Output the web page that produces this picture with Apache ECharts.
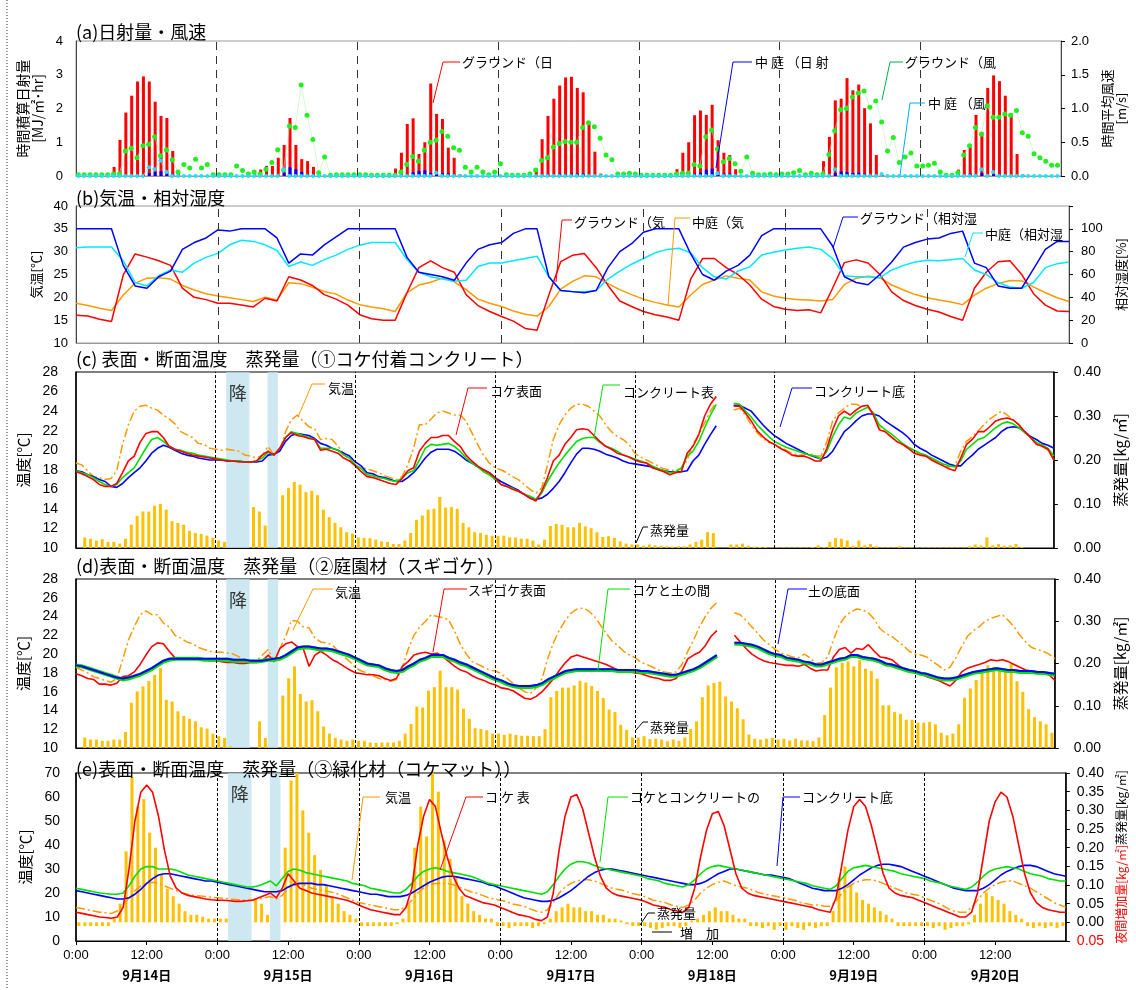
<!DOCTYPE html>
<html>
<head>
<meta charset="utf-8">
<script src="https://cdn.jsdelivr.net/npm/echarts@6/dist/echarts.min.js"></script>
<style>
html, body { margin: 0; padding: 0; background: #fff; }
#main { width: 1136px; height: 990px; }
</style>
</head>
<body>
<div id="main"></div>
<script>
// ---- tick labels / categories ----
var dayLabels = ['9月14日', '9月15日', '9月16日', '9月17日', '9月18日', '9月19日', '9月20日'];
var dayBreaks = [24, 48, 72, 96, 120, 144];
var rainSpans = [[25.8, 29.8], [32.9, 34.7]];

// ---- (a) hourly solar [MJ/m2 hr] and wind [m/s], index = hour 0..167 ----
var groundSolar = [
  0,0,0,0,0,0,0.27,1.07,1.88,2.38,2.8,2.95,2.8,2.2,1.78,1.72,0.74,0.1,0,0,0,0,0,0,
  0,0,0,0,0,0,0.05,0.19,0.3,0.3,0.54,0.92,1.72,0.92,0.5,0.44,0.27,0.03,0,0,0,0,0,0,
  0,0,0,0,0,0,0.22,0.69,1.54,1.71,0.65,1.0,2.74,1.84,1.69,0.84,0.54,0.05,0,0,0,0,0,0,
  0,0,0,0,0,0,0.23,1.09,1.78,2.29,2.68,2.92,2.94,2.61,2.48,1.56,0.72,0.07,0,0,0,0,0,0,
  0,0,0,0,0,0,0.2,0.69,1.0,1.8,1.94,1.81,2.11,1.06,0.69,0.62,0.2,0,0,0,0,0,0,0,
  0,0,0,0,0,0,0,0.44,1.16,2.24,2.29,2.9,2.54,2.71,2.01,1.56,0.62,0.03,0,0,0,0,0,0,
  0,0,0,0,0,0,0.19,0.77,0.87,1.81,1.31,2.61,2.98,2.81,2.38,1.86,0.65,0.05,0,0,0,0,0,0
];
var courtSolar = [
  0,0,0,0,0,0,0,0,0,0,0.02,0.03,0.09,0.12,0.14,0.12,0.05,0,0,0,0,0,0,0,
  0,0,0,0,0,0,0,0,0,0,0,0.1,0.26,0.2,0.12,0.05,0,0,0,0,0,0,0,0,
  0,0,0,0,0,0,0,0,0,0.11,0.15,0.17,0.09,0.05,0.08,0.08,0,0,0,0,0,0,0,0,
  0,0,0,0,0,0,0,0,0.05,0,0.07,0.05,0.07,0.07,0.07,0,0,0,0,0,0,0,0,0,
  0,0,0,0,0,0,0,0,0,0.07,0.1,0.19,0.22,0.12,0.07,0.07,0,0,0,0,0,0,0,0,
  0,0,0,0,0,0,0,0,0,0.09,0.14,0.12,0.09,0.1,0.07,0,0,0,0,0,0,0,0,0,
  0,0,0,0,0,0,0,0,0.07,0,0.09,0,0.05,0.05,0,0,0,0,0,0,0,0,0,0
];
var groundWind = [
  0.02,0.02,0.02,0.02,0.02,0.02,0.03,0.03,0.37,0.41,0.27,0.45,0.47,0.58,0.3,0.39,0.24,0.06,0.17,0.12,0.25,0.12,0.17,0.02,
  0.02,0.02,0.02,0.15,0.08,0.03,0.06,0.03,0.1,0.2,0.39,0.09,0.74,0.72,1.35,0.9,0.54,0.05,0.28,0.01,0.02,0.02,0.02,0.02,
  0.02,0.02,0.01,0.01,0.01,0.01,0.01,0.06,0.17,0.29,0.22,0.38,0.5,0.53,0.66,0.59,0.42,0.38,0.13,0.06,0.13,0.06,0.02,0.06,
  0.18,0.02,0.01,0.01,0.01,0.03,0.09,0.23,0.27,0.43,0.48,0.51,0.5,0.5,0.72,0.79,0.73,0.56,0.31,0.24,0.03,0.03,0.04,0.03,
  0.01,0.01,0.01,0.01,0.01,0.01,0.03,0.04,0.04,0.17,0.15,0.58,0.68,0.4,0.21,0.26,0.18,0.07,0.28,0.04,0.02,0.02,0.03,0.02,
  0.03,0.03,0.05,0.08,0.02,0.04,0.02,0.03,0.32,0.67,0.98,1.0,1.17,1.23,1.26,1.02,1.11,0.8,0.37,0.57,0.2,0.28,0.34,0.15,
  0.15,0.16,0.19,0.06,0.01,0.01,0.05,0.31,0.45,0.72,0.62,1.04,0.87,0.87,0.92,0.9,0.97,0.64,0.59,0.33,0.27,0.22,0.16,0.16
];
var courtWind = [
  0,0,0,0,0,0,0,0,0,0,0,0,0.13,0.1,0.23,0.06,0,0,0,0,0,0,0,0,
  0,0,0,0,0,0,0,0,0,0,0,0.1,0,0,0,0,0,0,0,0,0,0,0,0,
  0,0,0,0,0,0,0,0,0,0,0,0,0,0.05,0,0,0,0,0,0,0,0,0,0,
  0,0,0,0,0,0,0,0,0,0,0,0,0,0,0,0,0,0,0,0,0,0,0,0,
  0,0,0,0,0,0,0,0,0,0,0,0,0,0.04,0,0,0,0,0,0,0,0,0,0,
  0,0,0,0,0,0,0,0,0,0.1,0,0,0,0,0,0,0,0.03,0,0,0,0,0,0,
  0,0,0,0,0,0,0,0,0,0,0.1,0,0.06,0,0,0,0,0,0,0,0,0,0,0
];

// ---- (b) 2-hourly air temperature [C] and humidity [%], hour 0,2,..,168 ----
var groundTemp = [
  16.1,15.9,15.2,14.7,24.9,29.5,28.8,28.0,27.0,22.0,
  20.0,19.5,18.7,18.7,18.3,17.9,19.8,19.2,24.5,23.8,
  22.6,20.6,19.6,18.3,16.2,15.3,15.0,15.0,21.0,26.5,
  28.0,26.5,25.5,20.6,18.2,16.9,15.8,14.8,13.2,12.8,
  20.5,27.8,29.2,29.6,26.5,22.6,19.2,18.0,16.9,16.2,
  15.7,15.0,24.0,28.5,28.5,26.5,25.0,22.7,19.6,18.0,
  17.4,17.1,17.3,16.6,22.0,27.6,28.2,27.5,25.0,21.2,
  19.3,18.2,17.4,16.8,15.8,15.0,22.0,25.5,27.8,28.0,
  25.0,20.8,18.3,17.0,16.9
];
var courtTemp = [
  18.7,18.2,17.6,17.1,20.5,23.1,24.2,24.3,24.0,22.6,
  21.6,20.8,20.3,19.9,19.5,19.1,20.0,19.4,23.2,23.0,
  22.2,21.3,20.7,19.4,18.4,17.9,17.5,16.9,21.0,22.7,
  23.3,24.2,23.4,21.7,19.6,18.7,18.0,17.0,16.3,15.9,
  18.0,21.8,23.5,24.7,24.5,23.0,21.7,20.6,19.6,18.9,
  18.3,17.9,20.5,22.8,23.8,24.7,24.2,23.8,21.2,20.3,
  19.8,19.5,19.4,19.2,19.5,22.8,24.2,24.6,24.3,22.7,
  21.6,20.6,19.9,19.4,19.0,18.4,20.5,22.0,23.0,23.7,
  23.6,22.3,21.0,19.9,19.1
];
var groundRH = [
  100,100,100,100,68,50,48,58,63,82,
  88,92,99,98,100,100,100,92,70,78,
  77,86,93,100,100,100,100,100,75,62,
  60,58,55,70,82,86,88,96,100,100,
  58,46,45,44,46,66,80,87,97,100,
  100,100,78,60,55,63,68,77,94,100,
  100,100,100,100,85,58,53,51,60,71,
  84,88,91,92,96,98,70,66,50,48,
  48,65,82,89,89
];
var courtRH = [
  83.5,84,84,84,72,53,50,59,64,62,
  70,75,78.5,86,90,89,86,81,67,71,
  68,73,77,82,85.7,88,88,88,73,62,
  58,56,54,55,67,70,70,72,74,76,
  58,46,45,45,46,56,63,69,74,79,
  82,83,79,66,58,56,63,66.7,77,79.5,
  81.5,83,84,82,74,59,58,58,57,64,
  68,71,72.5,72,73,74,64,60,53,49,
  48,53,66,69.5,71
];

// ---- (c) moss-covered concrete, hourly temperatures hour 0..168 [C] ----
var cAir = [
  18.7,18.5,17.9,17.3,17.2,17.0,17.1,17.9,20.6,22.6,24.0,24.5,
  24.6,24.3,24.1,23.6,23.2,22.7,21.9,21.6,21.3,20.7,20.6,20.2,
  20.1,20.0,20.1,20.0,19.9,19.5,19.4,19.2,19.5,20.4,19.5,19.9,
  21.9,23.1,23.6,23.0,22.4,22.2,21.1,21.2,21.1,20.4,19.7,19.0,
  18.4,18.2,18.1,17.9,17.7,17.4,17.2,17.0,17.3,18.5,20.2,22.6,
  22.6,23.2,23.8,24.0,23.8,23.6,23.6,23.0,21.8,20.6,19.5,18.7,
  18.2,18.0,17.7,17.3,17.0,16.5,16.0,15.6,16.1,18.5,21.1,22.6,
  23.6,24.3,24.7,24.7,24.5,24.0,23.5,22.6,21.9,21.4,21.1,20.6,
  19.7,19.3,19.0,18.7,18.4,18.1,18.0,17.9,18.1,19.0,20.6,21.6,
  22.8,24.0,24.9,null,null,24.1,24.3,23.6,22.6,21.8,21.2,20.8,
  20.6,20.3,20.0,19.7,19.5,19.5,19.7,19.4,19.4,20.9,23.0,23.8,
  24.3,24.7,24.7,24.5,24.5,23.6,22.3,21.9,21.4,20.9,20.6,20.2,
  19.9,19.6,19.4,19.0,18.7,18.5,18.3,18.4,19.9,20.9,21.4,22.0,
  22.6,23.2,23.6,24.0,23.6,23.1,22.6,21.9,21.3,20.6,20.4,20.0,
  19.0
];
var cMoss = [
  17.8,17.6,17.3,17.0,16.5,16.3,16.3,16.6,17.7,18.9,19.4,20.8,
  21.7,21.9,21.9,21.3,20.4,20.1,19.9,19.7,19.5,19.4,19.3,19.2,
  19.1,19.0,18.9,18.9,18.8,18.8,18.8,18.9,19.5,19.9,19.5,20.2,
  21.3,21.8,21.5,21.4,21.2,21.1,20.0,20.1,19.9,19.7,19.2,18.9,
  18.4,17.8,17.3,17.2,17.0,16.8,16.6,16.5,17.1,17.9,18.2,19.9,
  20.7,21.3,21.3,21.5,21.5,20.9,20.4,19.5,18.9,18.4,18.0,17.7,
  17.2,16.5,16.3,16.0,15.8,15.5,15.1,14.8,15.8,17.2,18.9,19.5,
  20.6,21.3,22.1,22.2,22.1,21.5,20.9,20.4,20.1,19.7,19.5,19.3,
  19.0,18.8,18.7,18.2,18.0,17.8,17.5,17.7,17.8,19.7,20.4,21.6,
  23.5,24.7,25.5,null,null,24.5,24.5,23.8,23.0,22.0,21.4,20.9,
  20.6,20.2,19.9,19.5,19.4,19.4,19.2,18.9,18.9,20.2,22.1,23.5,
  24.0,23.6,24.1,24.5,24.6,23.6,22.1,21.9,21.4,20.9,20.6,20.2,
  19.7,19.5,19.4,19.0,18.7,18.4,18.1,17.9,19.2,20.6,21.1,21.9,
  21.9,22.4,23.0,23.2,23.3,23.1,22.6,21.9,21.3,20.6,20.4,20.1,
  19.0
];
var cConcTop = [
  17.9,17.7,17.5,17.2,16.8,16.5,16.3,16.5,17.2,17.7,18.2,19.2,
  20.2,21.1,21.3,20.9,20.4,20.1,20.0,19.8,19.7,19.5,19.4,19.3,
  19.2,19.1,19.0,18.9,18.9,18.8,18.8,18.9,19.2,19.8,19.5,20.2,
  21.3,21.9,21.7,21.5,21.3,21.1,20.2,20.2,20.2,20.0,19.5,19.2,
  18.5,18.1,17.5,17.4,17.2,17.1,16.9,16.8,17.1,17.7,17.9,19.0,
  20.2,20.6,20.5,20.6,20.7,20.4,19.9,19.2,18.7,18.3,17.8,17.5,
  17.0,16.5,16.3,16.1,15.8,15.5,15.3,15.0,15.6,16.8,17.8,18.7,
  19.5,20.2,20.9,21.2,21.3,21.3,20.8,20.4,20.2,19.9,19.5,19.3,
  19.1,18.9,18.7,18.4,18.1,17.9,17.7,17.8,18.2,19.4,19.9,20.9,
  22.3,23.6,24.7,null,null,24.8,24.7,24.0,23.4,22.6,22.0,21.4,
  20.9,20.6,20.3,20.1,19.9,19.7,19.5,19.4,19.1,19.9,21.4,22.6,
  23.4,23.2,23.8,24.1,24.4,23.8,22.6,22.1,21.7,21.2,20.7,20.3,
  20.0,19.7,19.5,19.2,18.9,18.6,18.4,18.3,18.9,20.1,20.6,21.1,
  21.3,21.8,22.3,22.7,22.9,22.7,22.3,21.8,21.3,20.8,20.5,20.2,
  19.4
];
var cConcBot = [
  17.9,17.8,17.5,17.3,17.0,16.8,16.3,16.2,16.6,17.2,17.7,18.2,
  18.9,19.7,20.2,20.5,20.3,20.0,19.7,19.5,19.4,19.2,19.1,19.0,
  19.0,19.0,18.9,18.9,18.9,18.8,18.8,18.8,18.9,19.5,19.6,19.9,
  20.9,21.5,21.7,21.6,21.5,21.2,20.7,20.5,20.2,20.0,19.7,19.4,
  18.8,18.4,17.7,17.6,17.3,17.2,17.0,16.8,16.8,17.2,17.7,18.4,
  19.2,19.8,20.1,20.1,20.1,19.9,19.5,19.0,18.7,18.3,18.0,17.7,
  17.2,16.8,16.5,16.2,15.9,15.5,15.1,15.0,15.1,15.5,16.1,16.8,
  17.7,18.7,19.6,20.2,20.2,20.1,19.9,19.6,19.4,19.2,18.9,18.7,
  18.6,18.5,18.4,18.3,18.1,17.9,17.8,17.8,17.8,17.9,18.9,19.5,
  20.6,21.6,22.5,null,null,24.6,24.6,24.3,24.0,23.3,22.6,22.0,
  21.5,21.1,20.7,20.4,20.1,19.8,19.5,19.3,19.1,19.3,19.9,20.9,
  21.9,22.4,23.0,23.5,23.7,23.7,23.5,23.0,22.6,22.2,21.8,21.3,
  20.6,20.2,19.9,19.5,19.2,18.9,18.6,18.4,18.4,19.0,19.5,20.1,
  20.5,20.9,21.3,21.9,22.3,22.4,22.3,21.9,21.4,21.1,20.7,20.5,
  20.2
];
// hourly evaporation [kg/m2], index = hour 0..167
var cEvap = [
  0,0.024,0.021,0.017,0.02,0.014,0.014,0.01,0.021,0.053,0.073,0.083,0.083,0.096,0.1,0.087,0.061,0.057,0.053,0.039,0.034,0.032,0.028,0.023,
  0.017,0.014,0,0,0,0,0.093,0.083,0.051,0,0,0.12,0.136,0.15,0.144,0.127,0.13,0.12,0.087,0.07,0.057,0.047,0.036,0.033,
  0.024,0.023,0.022,0.019,0.015,0.014,0.009,0.009,0.017,0.034,0.064,0.074,0.087,0.089,0.116,0.092,0.093,0.089,0.057,0.047,0.036,0.034,0.03,0.028,
  0.027,0.028,0.024,0.024,0.021,0.021,0.017,0.008,0.019,0.05,0.055,0.053,0.047,0.047,0.057,0.049,0.045,0.036,0.025,0.027,0.023,0.015,0.01,0.008,
  0.008,0.005,0.008,0.006,0.005,0.004,0.003,0.004,0.004,0.008,0.014,0.019,0.036,0.034,0,0,0.008,0.008,0.01,0.005,0.003,0.002,0.002,0.001,
  0.001,0.001,0.001,0.001,0.001,0.001,0.002,0.006,0.002,0.014,0.023,0.021,0.017,0.005,0.017,0.006,0.009,0.004,0.001,0.001,0.001,0.004,0.001,0.001,
  0.001,0.001,0.001,0.001,0.001,0.001,0.001,0.001,0.001,0.004,0.008,0.006,0.024,0.006,0.009,0.005,0.006,0.009,0.002,0,0,0,0,0
];

// ---- (d) garden moss (sugigoke) ----
var dAir = [
  18.6,18.3,18.0,17.6,17.4,17.2,17.0,17.4,19.4,21.5,22.9,24.2,
  24.6,24.2,24.2,23.3,22.9,22.0,21.7,21.3,21.1,20.7,20.5,20.3,
  20.2,20.2,20.1,20.0,19.7,19.4,19.2,19.3,19.9,20.5,19.2,20.6,
  21.9,23.6,23.5,22.9,22.8,21.7,21.3,21.2,21.0,20.3,19.7,19.2,
  18.5,18.2,18.0,17.7,17.4,17.3,17.1,17.3,18.5,20.5,22.0,22.9,
  23.5,24.2,24.0,23.9,23.6,22.4,21.0,20.0,19.2,18.9,18.6,18.3,
  18.2,17.9,17.4,16.9,16.4,16.0,15.8,16.4,17.4,19.6,21.3,22.6,
  23.6,24.4,24.8,24.9,24.6,24.0,23.1,22.2,21.4,20.9,20.3,19.9,
  19.6,19.1,18.9,18.6,18.3,18.1,18.0,18.1,18.9,20.3,21.5,22.9,
  24.0,24.9,25.5,null,null,24.4,24.2,23.6,22.9,22.2,21.5,21.0,
  20.5,20.1,19.9,19.7,19.6,20.0,19.6,19.0,19.1,19.7,21.5,23.1,
  24.0,24.5,24.8,24.7,24.4,23.7,22.7,22.2,21.9,21.4,20.9,20.3,
  20.0,19.9,19.7,19.2,18.8,18.3,18.6,19.6,20.8,21.9,22.5,22.9,
  23.5,23.8,24.0,24.2,23.6,22.9,22.0,21.3,20.7,20.5,20.3,20.0,
  19.5
];
var dMoss = [
  17.9,17.7,17.4,17.3,16.8,16.8,16.7,16.9,17.6,17.7,18.1,18.9,
  19.9,20.8,21.2,21.1,20.3,19.6,19.6,19.6,19.6,19.5,19.4,19.3,
  19.3,19.2,19.1,19.1,19.0,19.0,19.1,19.1,19.3,19.9,19.2,20.6,
  21.1,21.3,20.8,20.6,18.7,19.9,20.3,19.9,19.4,19.1,18.7,18.3,
  18.0,17.9,17.8,17.8,17.7,17.4,17.2,17.4,18.7,19.2,19.9,20.1,
  20.2,20.0,20.1,19.7,19.2,18.7,18.3,18.1,17.7,17.4,17.2,16.9,
  16.7,16.4,16.3,16.1,15.7,15.3,15.2,15.5,16.0,16.7,17.4,18.3,
  19.1,19.7,19.9,19.7,19.5,19.3,19.1,18.9,18.6,18.3,18.2,18.1,
  18.0,17.9,17.7,17.5,17.4,17.2,17.2,17.4,18.2,19.5,19.9,20.2,
  20.9,21.9,22.5,null,null,22.0,21.3,20.6,20.0,19.6,19.3,19.1,
  19.0,18.9,18.8,18.8,18.7,18.9,18.5,18.2,18.3,18.3,19.7,20.5,
  20.7,20.1,20.6,20.5,21.0,20.3,19.7,19.6,19.4,18.9,18.4,18.3,
  18.1,17.9,17.6,17.4,17.2,16.9,16.6,17.2,18.1,18.5,18.7,18.9,
  19.1,19.4,19.3,19.4,19.2,18.9,18.6,18.3,18.2,18.1,18.0,17.8,
  17.2
];
var dMossSoil = [
  18.8,18.7,18.5,18.3,18.1,17.9,17.7,17.5,17.3,17.4,17.6,17.8,
  18.1,18.4,18.8,19.2,19.4,19.5,19.5,19.5,19.5,19.5,19.4,19.4,
  19.4,19.4,19.4,19.3,19.3,19.3,19.2,19.2,19.3,19.4,19.4,19.5,
  19.8,20.2,20.6,20.7,20.7,20.6,20.5,20.5,20.4,20.2,20.0,19.8,
  19.5,19.2,18.9,18.8,18.7,18.4,18.2,18.1,18.2,18.6,18.9,19.3,
  19.5,19.8,19.8,19.8,19.5,19.3,19.0,18.8,18.5,18.2,17.9,17.6,
  17.3,17.1,16.8,16.6,16.5,16.5,16.5,16.6,16.8,17.2,17.5,17.8,
  18.1,18.2,18.3,18.3,18.3,18.3,18.3,18.3,18.3,18.2,18.2,18.2,
  18.2,18.1,18.1,18.0,17.9,17.8,17.7,17.7,17.9,18.1,18.3,18.6,
  19.0,19.4,19.8,null,null,21.1,21.1,21.0,20.9,20.7,20.4,20.1,
  19.9,19.8,19.5,19.4,19.3,19.1,19.0,18.8,18.8,19.0,19.2,19.4,
  19.5,19.8,19.8,19.6,19.5,19.4,19.2,18.9,18.8,18.6,18.4,18.2,
  18.1,17.9,17.8,17.6,17.4,17.3,17.3,17.4,17.6,17.8,18.0,18.1,
  18.2,18.3,18.4,18.3,18.2,18.2,18.1,18.1,18.1,18.0,18.0,17.9,
  17.8
];
var dSoilBot = [
  18.8,18.7,18.5,18.3,18.1,17.9,17.7,17.5,17.4,17.5,17.7,17.9,
  18.2,18.5,18.9,19.3,19.5,19.5,19.5,19.5,19.5,19.5,19.5,19.5,
  19.5,19.5,19.5,19.4,19.4,19.4,19.3,19.3,19.3,19.4,19.5,19.6,
  19.9,20.3,20.7,20.8,20.8,20.7,20.6,20.6,20.5,20.3,20.1,19.9,
  19.6,19.3,19.0,18.9,18.8,18.5,18.3,18.2,18.3,18.7,19.0,19.4,
  19.6,19.9,19.9,19.9,19.6,19.4,19.1,18.9,18.6,18.3,18.0,17.7,
  17.4,17.2,16.9,16.7,16.6,16.6,16.6,16.7,16.9,17.3,17.6,17.9,
  18.2,18.3,18.4,18.4,18.4,18.4,18.4,18.4,18.4,18.3,18.3,18.3,
  18.3,18.2,18.2,18.1,18.0,17.9,17.8,17.8,18.0,18.2,18.4,18.7,
  19.1,19.5,19.9,null,null,21.2,21.2,21.1,21.0,20.8,20.5,20.2,
  20.0,19.9,19.6,19.5,19.4,19.2,19.1,18.9,18.9,19.1,19.3,19.5,
  19.6,19.9,19.9,19.7,19.6,19.5,19.3,19.0,18.9,18.7,18.5,18.3,
  18.2,18.0,17.9,17.7,17.5,17.4,17.4,17.5,17.7,17.9,18.1,18.2,
  18.3,18.4,18.5,18.4,18.3,18.3,18.2,18.2,18.2,18.1,18.1,18.0,
  17.9
];
var dEvap = [
  0,0.025,0.02,0.02,0.017,0.017,0.02,0.02,0.038,0.107,0.134,0.146,0.159,0.173,0.189,0.114,0.11,0.087,0.076,0.069,0.063,0.049,0.046,0.034,
  0.028,0.024,0.004,0,0,0,0,0.063,0.024,0,0,0.124,0.165,0.193,0.128,0.11,0.113,0.087,0.051,0.034,0.024,0.02,0.017,0.02,
  0.017,0.017,0.013,0.012,0.013,0.013,0.013,0.017,0.034,0.057,0.098,0.096,0.136,0.144,0.183,0.144,0.144,0.138,0.093,0.069,0.047,0.045,0.042,0.034,
  0.034,0.031,0.034,0.031,0.029,0.029,0.028,0.028,0.045,0.12,0.135,0.143,0.143,0.148,0.159,0.155,0.147,0.135,0.118,0.091,0.085,0.055,0.043,0.025,
  0.025,0.028,0.021,0.022,0.02,0.016,0.02,0.017,0.025,0.045,0.063,0.12,0.148,0.154,0.157,0.122,0.11,0.094,0.068,0.032,0.022,0.02,0.022,0.024,
  0.02,0.022,0.018,0.022,0.018,0.018,0.016,0.025,0.078,0.143,0.191,0.202,0.205,0.193,0.208,0.188,0.182,0.164,0.101,0.101,0.085,0.081,0.067,0.067,
  0.06,0.06,0.062,0.056,0.036,0.03,0.034,0.056,0.119,0.141,0.161,0.179,0.196,0.192,0.19,0.182,0.2,0.158,0.133,0.092,0.073,0.063,0.056,0.036
];

// ---- (e) moss mat ----
var eAir = [
  14,13.5,13,12.5,12,11.8,11.5,12.5,15,18,21,23,
  24,24.5,24,23,22,21,20,19.5,19,18.8,18.5,18.2,
  18,17.8,17.5,17.3,17,17,17.2,17.5,18,18.5,17.5,19,
  22,24,24,23,22,21.5,21,20.5,20,19,18,17,
  16,15.5,15,14.5,14,13.5,13,13,14.5,17,20,22,
  23.5,24,24,24,23.5,22.5,21.5,20.5,20,19,18,17.5,
  17,16.5,15.5,15,14.5,13.5,12.5,12,13,16,20,22.5,
  24,25,25.5,25.5,25,24,23,22,21.5,21,20,19.5,
  19,18,17,16.5,16,15,14.5,14,15,17,20,22,
  23.5,24.5,25,24,23,22.5,22,21,20,19.5,19,18.5,
  18,17.5,17,16,15.5,15,15,14.5,14.5,16.5,20,22.5,
  24,25,25.5,25.5,25,24,23,22,21,20,19.5,19,
  18,17,16,15,13.5,12.5,12,12,14,17,20,22,
  23.5,24.5,25,25,24,23,22,20.5,19,17.5,16,15,
  14
];
var eMoss = [
  12,11.5,11,10.5,10,9.8,9.5,10,14,30,50,62,
  65,62,52,38,27,22,20,19,18.5,18,17.5,17.2,
  17,17,16.8,16.5,16.5,16.8,17,18,19,20,18,22,
  28,25,22,21,20,19.5,19,18.5,18,17.5,17,16,
  15,14,13,12.5,12,11.5,11,11,14,22,40,52,
  59,56,45,35,27,22,19,18,17,16,15.5,15,
  14,13,12,11,10.5,10,9,8.5,10,20,38,52,
  60,61,55,45,35,27,22,20,19,18.5,18,17.5,
  17,16,15,14.5,14,13,12.5,12,14,22,35,46,
  53,54,48,38,28,22,20,19,18.5,18,17.5,17,
  16.5,16,15.5,15,14.5,14,13,12.5,12,18,32,46,
  56,59,56,48,38,28,22,20,19,18.5,18,17,
  16,15,14,13,12,11,10,10,12,20,35,50,
  58,62,60,52,40,28,20,16,14,13,12.5,12,
  12
];
var eMossConc = [
  22,21.5,21,20.5,20,19.8,19.5,19.5,20,23,27,30,
  31,31,30,30,30,29.5,28.5,27.5,27,26.5,26,25.5,
  25,24.5,24,23.5,23,22.5,22.5,23,24,25,23,26,
  29,30,29.5,28.5,28,27.5,27,26.5,26,25.5,25,24,
  23.5,23,22,21.5,21,20.5,20,20,21.5,24,27,29,
  30,30.5,30,29,28.5,28,27.5,27,26,25,24,23.5,
  23,22.5,22,21.5,21,20.5,20,19.5,20.5,23.5,27,30,
  32,33,33,32.5,31.5,30.5,30,29.5,29,28.5,28,27.5,
  27,26,25.5,25,24,23.5,23,22.5,23.5,25.5,28,30,
  31,31.5,31,30.5,30,29.5,29,28.5,28,27.5,27,26.5,
  26,25.5,25,24.5,24,23,22.5,22,21.5,23,26,29,
  30.5,31,31.5,31,30.5,30,29.5,29,28,27.5,27,26.5,
  26,25,24.5,24,23,22.5,22,21.5,22.5,24.5,27,29,
  30,30.5,31,30.5,30,29,28,27.5,27,26,25.5,25,
  25
];
var eConcBot = [
  21,20.5,20,19.5,19,18.5,18,17.5,17.5,18,19.5,21.5,
  24,26,27.5,28,28,27.5,27,26.5,26,25.5,25,25,
  24.5,24,23.5,23,22.5,22,21.5,21,20.5,20.5,20.5,21,
  22.5,23.5,24,24,24,23.5,23.5,23,22.5,22,21.5,21,
  20.5,20,19.5,19.5,19,18.5,18.5,18.5,19,20,21.5,23,
  24.5,25.5,26.5,27,27,26.5,26,25.5,25,24.5,23.5,23,
  22,21,20,19,18,17.5,17,16.5,16.5,17,18,19.5,
  21,23,25,27,28.5,29.5,30,30,29.5,29,28.5,28,
  27.5,27,26.5,26,25.5,25,24.5,24,23.5,23.5,24,25,
  26.5,28,29,30,30,29.5,29,28.5,28,27.5,27.5,27,
  26.5,26,25,24,23,22,21.5,21,21,21,22,23.5,
  25.5,27.5,29,30.5,31.5,32,32,31.5,31,30,29,28,
  27,26,25,24,23,22,21.5,21,21,21,22,23.5,
  25.5,27.5,29,30,31,31.5,31.5,31,30,29,28,27.5,
  27
];
// evaporation (+) / night-time gain (-) [kg/m2]
var eEvap = [
  -0.01,-0.01,-0.01,-0.01,-0.01,-0.01,0.01,0.05,0.19,0.39,0.31,0.33,0.24,0.2,0.13,0.09,0.07,0.05,0.03,0.02,0.02,0.015,0.01,0.01,
  0.01,0.01,0,0,0,0,0.06,0.05,0.02,0,0,0.2,0.38,0.4,0.3,0.24,0.18,0.14,0.1,0.07,0.05,0.03,0.02,0.01,
  -0.01,-0.01,-0.01,-0.01,-0.01,-0.01,-0.005,0.01,0.05,0.2,0.31,0.23,0.4,0.35,0.22,0.17,0.12,0.07,0.05,0.03,0.02,0.01,0.01,-0.01,
  -0.01,-0.015,-0.01,-0.01,-0.01,-0.015,-0.01,-0.005,0.01,0.03,0.04,0.05,0.04,0.04,0.03,0.03,0.02,0.02,0.01,0.01,0.005,-0.005,-0.01,-0.01,
  -0.01,-0.015,-0.02,-0.015,-0.01,-0.01,-0.015,-0.01,0.005,0.01,0.02,0.03,0.04,0.03,0.03,0.02,0.01,0.01,-0.01,-0.01,-0.015,-0.01,-0.02,-0.01,
  -0.02,-0.01,-0.015,-0.02,-0.01,-0.015,-0.01,-0.01,0.03,0.12,0.15,0.1,0.08,0.06,0.05,0.04,0.03,0.02,0.01,-0.01,-0.01,-0.01,-0.01,-0.01,
  -0.01,-0.015,-0.01,-0.02,-0.015,-0.01,-0.01,-0.005,0.02,0.05,0.08,0.07,0.06,0.05,0.03,0.02,0.01,-0.01,-0.015,-0.01,-0.015,-0.01,-0.015,-0.01
];

// ------------------------------------------------------------
var FONT = "'Liberation Sans', 'Noto Sans CJK JP', sans-serif";
var JP = "'Noto Sans CJK JP', 'Liberation Sans', sans-serif";
var RED = '#ff0000', ORANGE = '#ff9900', BLUE = '#0000ff', CYAN = '#00e8ff', GREEN = '#00e000', GOLD = '#ffc000';

// one category slot per hour for the hourly bars
var hourSlots = groundSolar.map(function (v, i) { return i; });

function pts(arr, off, step) {
  return arr.map(function (v, i) { return [i * (step || 1) + off, v]; });
}

var myChart = echarts.init(document.getElementById('main'));

var gridBoxes = [
  { top: 41, height: 135 },
  { top: 206, height: 137 },
  { top: 372, height: 176 },
  { top: 579, height: 169 },
  { top: 773, height: 168 }
];
var grids = gridBoxes.map(function (g, i) {
  return { left: 76, width: 993, top: g.top, height: g.height, show: true,
    borderColor: i < 2 ? '#999' : '#000', borderWidth: 1, backgroundColor: 'transparent' };
});

// value (time in hours) axes 0..4 for lines, category axes 5..9 for hourly bars
var xAxes = grids.map(function (g, i) {
  var last = i === 4;
  return {
    type: 'value', gridIndex: i, min: 0, max: 168, interval: 12,
    splitLine: { show: false },
    axisLine: { show: true, lineStyle: { color: i < 2 ? '#999' : '#000' } },
    axisTick: { show: last, length: 4, lineStyle: { color: '#000' } },
    axisLabel: last ? {
      show: true, color: '#000', fontSize: 13, fontFamily: FONT, margin: 6, lineHeight: 16,
      showMaxLabel: false,
      formatter: function (v) {
        if (v % 24 === 12) return '12:00\n{d|' + dayLabels[(v - 12) / 24] + '}';
        return '0:00';
      },
      rich: { d: { fontWeight: 'bold', fontSize: 13, lineHeight: 24, fontFamily: JP, color: '#000' } }
    } : { show: false }
  };
}).concat(grids.map(function (g, i) {
  return { type: 'category', gridIndex: i, data: hourSlots, boundaryGap: true, show: false };
}));

function yAx(i, pos, min, max, step, name, gap, margin, fmt, nameSize) {
  return {
    type: 'value', gridIndex: i, position: pos, min: min, max: max, interval: step,
    splitLine: { show: false },
    axisLine: { show: true, lineStyle: { color: i < 2 ? '#444' : '#000', width: i < 2 ? 1 : 1.5 } },
    axisTick: { show: pos === 'right', length: 4, lineStyle: { color: '#000' } },
    axisLabel: { color: '#000', fontSize: i < 2 ? 13 : 14, fontFamily: FONT, margin: margin,
      formatter: fmt, rich: { r: { color: '#ff0000', fontSize: 14, fontFamily: FONT } } },
    name: name, nameLocation: 'middle', nameRotate: 90, nameGap: gap,
    nameTextStyle: { fontFamily: JP, fontSize: nameSize || 12, color: '#000', lineHeight: (nameSize || 12) + 1,
      rich: { r: { color: '#ff0000', fontSize: nameSize || 12, fontFamily: JP } } }
  };
}
function f1(v) { return v.toFixed(1); }
function f2(v) { return v.toFixed(2); }

var yAxes = [
  yAx(0, 'left', 0, 4, 1, '時間積算日射量\n[MJ/㎡･hr]', 25, 13, null, 14),
  yAx(0, 'right', 0, 2, 0.5, '時間平均風速\n[m/s]', 33, 10, f1, 13),
  yAx(1, 'left', 10, 40, 5, '気温[℃]', 31, 8, null, 13),
  yAx(1, 'right', 0, 120, 20, '相対湿度[%]', 38, 12, function (v) { return v === 120 ? '' : v; }, 13),
  yAx(2, 'left', 10, 28, 2, '温度[℃]', 39, 18, null, 15),
  yAx(2, 'right', 0, 0.4, 0.1, '蒸発量[kg/㎡]', 49, 20, f2, 15),
  yAx(3, 'left', 10, 28, 2, '温度[℃]', 39, 18, null, 15),
  yAx(3, 'right', 0, 0.4, 0.1, '蒸発量[kg/㎡]', 49, 19, f2, 15),
  yAx(4, 'left', 0, 70, 10, '温度[℃]', 36, 16, null, 15),
  yAx(4, 'right', -0.05, 0.4, 0.05, '{r|夜間増加量[kg/㎡]}蒸発量[kg/㎡]', 49, 11,
    function (v) { return v < -0.01 ? '{r|0.05}' : v.toFixed(2); }, 12)
];

function dividers(i) {
  return {
    silent: true, symbol: 'none', label: { show: false },
    lineStyle: i < 2 ? { color: '#333', type: [8, 6], width: 1 } : { color: '#000', type: [3, 2], width: 1 },
    data: dayBreaks.map(function (d) { return { xAxis: d }; })
  };
}
function rainBand(i) {
  return {
    type: 'line', xAxisIndex: i, yAxisIndex: 2 * i, data: [], z: 10, silent: true,
    markArea: {
      silent: true,
      itemStyle: { color: 'rgba(190,224,236,0.75)' },
      label: { show: true, position: 'insideTop', distance: 12, fontSize: 18, color: '#333', fontFamily: JP },
      data: rainSpans.map(function (s, k) { return [{ xAxis: s[0], name: k === 0 ? '降' : '' }, { xAxis: s[1] }]; })
    }
  };
}
function line(i, yi, arr, color, width, dash, off, step) {
  return {
    type: 'line', xAxisIndex: i, yAxisIndex: yi, data: pts(arr, off || 0, step), showSymbol: false,
    connectNulls: false, silent: true, z: 3,
    lineStyle: { color: color, width: width, type: dash || 'solid' }, itemStyle: { color: color }
  };
}
function withDividers(s, i) { s.markLine = dividers(i); return s; }
function bars(i, yi, arr, color) {
  return {
    type: 'bar', xAxisIndex: 5 + i, yAxisIndex: yi, data: arr, barWidth: 3, barGap: '-100%',
    silent: true, z: 2, itemStyle: { color: color }
  };
}
var DASHDOT = [9, 3, 2, 3];

var series = [
  // (a)
  bars(0, 0, groundSolar, RED),
  bars(0, 0, courtSolar, BLUE),
  withDividers({ type: 'line', xAxisIndex: 0, yAxisIndex: 1, data: pts(groundWind, 0.4), symbol: 'circle', symbolSize: 5,
    silent: true, z: 4, itemStyle: { color: '#22ee22' }, lineStyle: { color: '#b8f0b8', width: 0.6 } }, 0),
  { type: 'line', xAxisIndex: 0, yAxisIndex: 1, data: pts(courtWind, 0.4), symbol: 'circle', symbolSize: 4,
    silent: true, z: 5, itemStyle: { color: '#22e0ff' }, lineStyle: { color: '#88eeff', width: 0.6 } },
  // (b)
  withDividers(line(1, 2, courtTemp, ORANGE, 1.5, null, 0, 2), 1),
  line(1, 2, groundTemp, RED, 1.5, null, 0, 2),
  line(1, 3, courtRH, CYAN, 1.5, null, 0, 2),
  line(1, 3, groundRH, BLUE, 1.5, null, 0, 2),
  // (c)
  bars(2, 5, cEvap, GOLD),
  withDividers(line(2, 4, cAir, ORANGE, 1.5, DASHDOT), 2),
  line(2, 4, cConcBot, BLUE, 1.6),
  line(2, 4, cConcTop, GREEN, 1.6),
  line(2, 4, cMoss, RED, 1.6),
  rainBand(2),
  // (d)
  bars(3, 7, dEvap, GOLD),
  withDividers(line(3, 6, dAir, ORANGE, 1.5, DASHDOT), 3),
  line(3, 6, dMoss, RED, 1.6),
  line(3, 6, dMossSoil, GREEN, 4),
  line(3, 6, dSoilBot, BLUE, 2),
  rainBand(3),
  // (e)
  bars(4, 9, eEvap, GOLD),
  withDividers(line(4, 8, eAir, ORANGE, 1.5, DASHDOT), 4),
  line(4, 8, eConcBot, BLUE, 1.6),
  line(4, 8, eMossConc, GREEN, 1.6),
  line(4, 8, eMoss, RED, 1.6),
  rainBand(4)
];

// callout labels with leader lines
function note(text, color, path, tx, ty) {
  return [
    { type: 'polyline', silent: true, z: 100, shape: { points: path }, style: { stroke: color, fill: null, lineWidth: 1 } },
    { type: 'text', silent: true, z: 100, x: tx, y: ty,
      style: { text: text, fill: '#000', font: '13px ' + JP, verticalAlign: 'middle' } }
  ];
}
function title(text, y) {
  return { type: 'text', silent: true, x: 76, y: y, z: 100,
    style: { text: text, fill: '#000', font: '18px ' + JP, verticalAlign: 'middle' } };
}
var graphics = [
  { type: 'line', silent: true, shape: { x1: 7, y1: 0, x2: 7, y2: 990 },
    style: { stroke: '#333', lineWidth: 1, lineDash: [1, 2] } },
  title('(a)日射量・風速', 32),
  title('(b)気温・相対湿度', 198),
  title('(c) 表面・断面温度　蒸発量（①コケ付着コンクリート）', 359),
  title('(d)表面・断面温度　蒸発量（②庭園材（スギゴケ））', 566),
  title('(e)表面・断面温度　蒸発量（③緑化材（コケマット））', 769)
].concat(
  note('グラウンド（日', RED, [[433, 103], [443, 62], [460, 62]], 462, 62),
  note('中 庭 （日 射', BLUE, [[716, 168], [733, 62], [752, 62]], 755, 62),
  note('グラウンド（風', '#00b050', [[882, 100], [890, 62], [903, 62]], 905, 62),
  note('中 庭 （風', '#00b0f0', [[900, 175], [910, 103], [925, 103]], 928, 103),
  note('グラウンド（気', RED, [[556, 282], [562, 220], [572, 220]], 574, 222),
  note('中庭（気', ORANGE, [[668, 305], [675, 218], [690, 218]], 692, 222),
  note('グラウンド（相対湿', BLUE, [[833, 248], [843, 217], [858, 217]], 860, 218),
  note('中庭（相対湿', CYAN, [[965, 257], [973, 233], [983, 233]], 985, 234),
  note('気温', ORANGE, [[298, 417], [312, 384], [325, 384]], 328, 388),
  note('コケ表面', RED, [[456, 435], [468, 388], [487, 388]], 490, 391),
  note('コンクリート表', GREEN, [[594, 438], [603, 385], [620, 385]], 623, 392),
  note('コンクリート底', BLUE, [[780, 427], [792, 388], [812, 388]], 814, 391),
  note('蒸発量', '#000', [[636, 543], [643, 527], [648, 527]], 650, 530),
  note('気温', ORANGE, [[293, 630], [313, 589], [333, 589]], 335, 592),
  note('スギゴケ表面', RED, [[433, 652], [444, 589], [467, 589]], 468, 590),
  note('コケと土の間', GREEN, [[598, 670], [608, 589], [630, 589]], 632, 590),
  note('土の底面', BLUE, [[778, 644], [788, 589], [807, 589]], 808, 591),
  note('蒸発量', '#000', [[636, 730], [643, 722], [648, 722]], 650, 727),
  note('気温', ORANGE, [[352, 880], [363, 797], [380, 797]], 385, 797),
  note('コ ケ 表', RED, [[440, 870], [466, 797], [483, 797]], 485, 797),
  note('コケとコンクリートの', GREEN, [[600, 862], [608, 797], [628, 797]], 630, 797),
  note('コンクリート底', BLUE, [[777, 866], [783, 797], [800, 797]], 802, 797),
  note('蒸発量', '#000', [[640, 925], [648, 913], [655, 913]], 657, 913),
  note('増　加', '#000', [[652, 932], [672, 932]], 680, 933)
);

option = {
  animation: false,
  backgroundColor: '#fff',
  textStyle: { fontFamily: FONT },
  grid: grids,
  xAxis: xAxes,
  yAxis: yAxes,
  series: series,
  graphic: graphics
};
myChart.setOption(option);
</script>
</body>
</html>
